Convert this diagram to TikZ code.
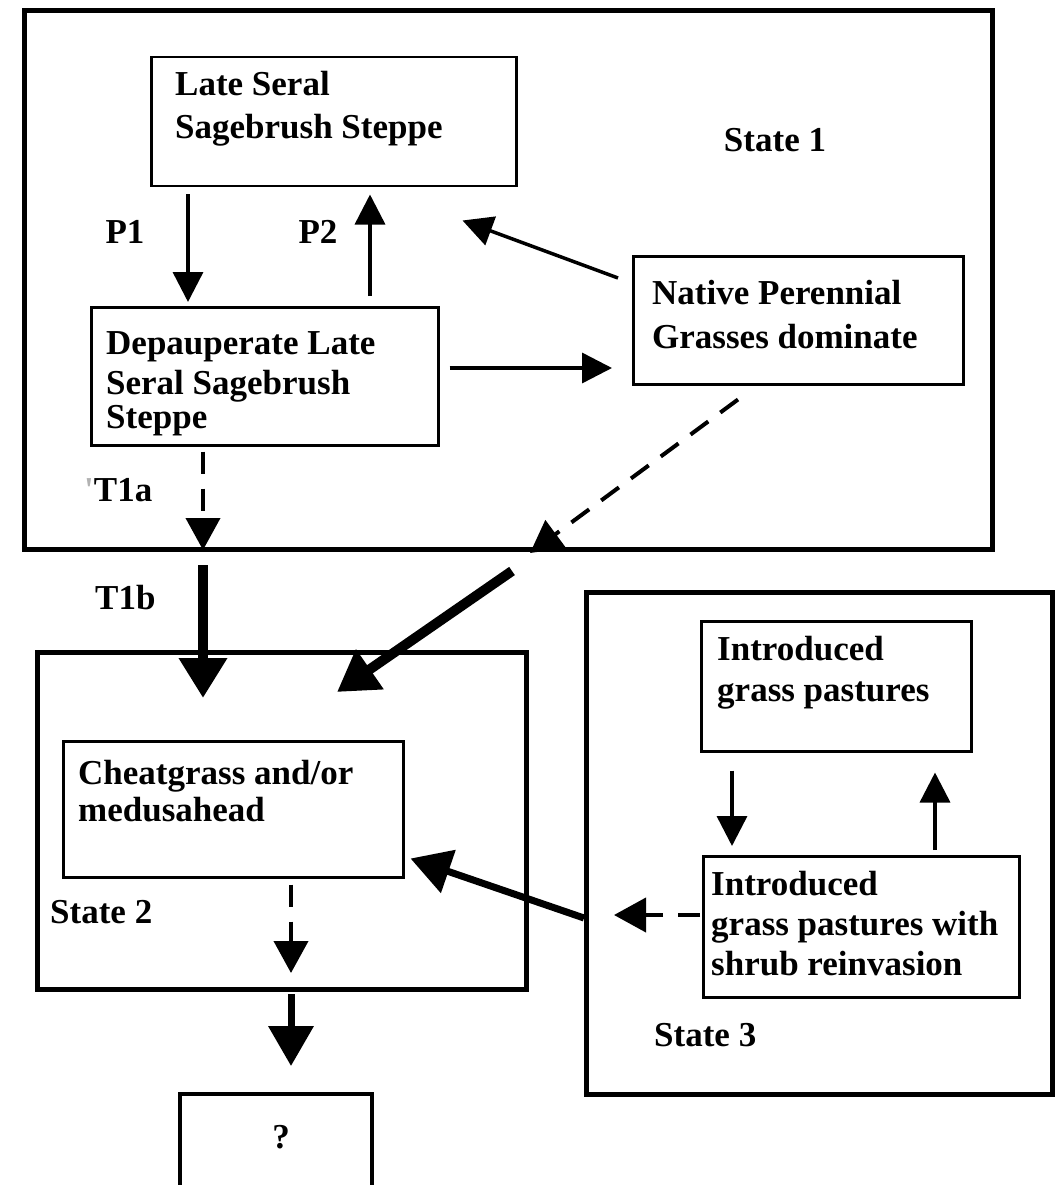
\documentclass[tikz,border=0pt]{standalone}
\usepackage{fontspec}
\setmainfont{Liberation Serif}[Ligatures=NoCommon]
\usetikzlibrary{arrows.meta,calc}
\begin{document}
\begin{tikzpicture}[x=1pt,y=-1pt,
  every node/.style={font=\fontsize{35}{40}\selectfont\bfseries},
  statebox/.style={draw, line width=5pt, inner sep=0pt, anchor=north west},
  itembox/.style={draw, line width=2.5pt, inner sep=0pt, anchor=north west},
  txt/.style={anchor=north west, align=left, inner sep=0pt},
  lbl/.style={anchor=west, inner sep=0pt},
  thinarrow/.style={line width=3.5pt, -{Triangle[length=30pt,width=30pt]}},
  thickarrow/.style={line width=10pt, -{Triangle[length=40pt,width=46pt]}},
  medarrow/.style={line width=7pt, -{Triangle[length=40pt,width=44pt]}},
  dasharrow/.style={line width=4pt, dash pattern=on 22pt off 15pt, -{Triangle[length=32pt,width=34pt]}},
]
\useasboundingbox (0,0) rectangle (1055,1185);
% State boxes
\node[statebox, minimum width=968pt, minimum height=539pt] (s1) at (22,8) {};
\node[statebox, minimum width=489pt, minimum height=337pt] (s2) at (35,650) {};
\node[statebox, minimum width=466pt, minimum height=502pt] (s3) at (584,590) {};
% Item boxes
\node[itembox, minimum width=365pt, minimum height=129pt] (late) at (150,56) {};
\node[itembox, minimum width=347pt, minimum height=138pt] (dep) at (90,306) {};
\node[itembox, minimum width=330pt, minimum height=128pt] (nat) at (632,255) {};
\node[itembox, minimum width=340pt, minimum height=136pt] (cheat) at (62,740) {};
\node[statebox, line width=4pt, minimum width=192pt, minimum height=130pt] (q) at (178,1092) {};
\node[itembox, minimum width=270pt, minimum height=130pt] (intro) at (700,620) {};
\node[itembox, minimum width=316pt, minimum height=141pt] (shrub) at (702,855) {};
% Texts
\node[txt, font=\fontsize{35}{43}\selectfont\bfseries] (latet) at (175,71) {Late Seral\\Sagebrush Steppe};
\node[txt] (dept) at (106,331) {Depauperate Late\\Seral Sagebrush\\[-6pt]Steppe};
\node[txt, font=\fontsize{35}{44}\selectfont\bfseries] (natt) at (652,280) {Native Perennial\\Grasses dominate};
\node[txt, font=\fontsize{35}{37}\selectfont\bfseries] (cheatt) at (78,760) {Cheatgrass and/or\\medusahead};
\node[txt, font=\fontsize{35}{41}\selectfont\bfseries] (introt) at (717,636) {Introduced\\grass pastures};
\node[txt, font=\fontsize{35}{40}\selectfont\bfseries] (shrubt) at (711,871) {Introduced\\grass pastures with\\shrub reinvasion};
\node[anchor=center, inner sep=0pt] (st1) at (775,140) {State 1};
\node[lbl] (st2) at (50,912) {State 2};
\node[lbl] (st3) at (654,1035) {State 3};
\node[anchor=center, inner sep=0pt] (p1) at (125,232) {P1};
\node[anchor=center, inner sep=0pt] (p2) at (318,232) {P2};
\node[lbl] (t1a) at (84,490) {{\color{black!30}\textquotesingle}T1a};
\node[lbl] (t1b) at (95,598) {T1b};
\node[anchor=center, inner sep=0pt] (qt) at (281,1137) {?};
% Connectors
\draw[thinarrow] ($(late.south west)+(38,7)$) -- ($(dep.north west)+(98,-4)$);
\draw[thinarrow] ($(dep.north west)+(280,-10)$) -- ($(late.south west)+(220,7)$);
\draw[thinarrow] ($(nat.north west)+(-14,23)$) -- ($(late.south east)+(-55,33)$);
\draw[thinarrow] ($(dep.north east)+(10,62)$) -- ($(nat.north west)+(-20,113)$);
\draw[dasharrow] ($(nat.south west)+(106,14)$) -- ($(s1.south west)+(508,1)$);
\draw[dasharrow] ($(dep.south west)+(113,5)$) -- ($(s1.south west)+(181,-2)$);
\draw[thickarrow] ($(s1.south west)+(181,13)$) -- ($(s2.north west)+(168,48)$);
\draw[thickarrow] ($(s1.south west)+(490,19)$) -- ($(s2.north west)+(302,42)$);
\draw[dasharrow] ($(cheat.south west)+(229,6)$) -- ($(s2.south west)+(256,-19)$);
\draw[medarrow] ($(s2.south west)+(256,2)$) -- ($(q.north west)+(113,-26)$);
\draw[thinarrow] ($(intro.south west)+(32,18)$) -- ($(shrub.north west)+(30,-9)$);
\draw[thinarrow] ($(shrub.north west)+(233,-5)$) -- ($(intro.south west)+(235,20)$);
\draw[dasharrow] ($(shrub.north west)+(-2,60)$) -- ($(s3.north west)+(30,325)$);
\draw[medarrow] ($(s3.north west)+(0,328)$) -- ($(cheat.south east)+(6,-20)$);
\end{tikzpicture}
\end{document}
